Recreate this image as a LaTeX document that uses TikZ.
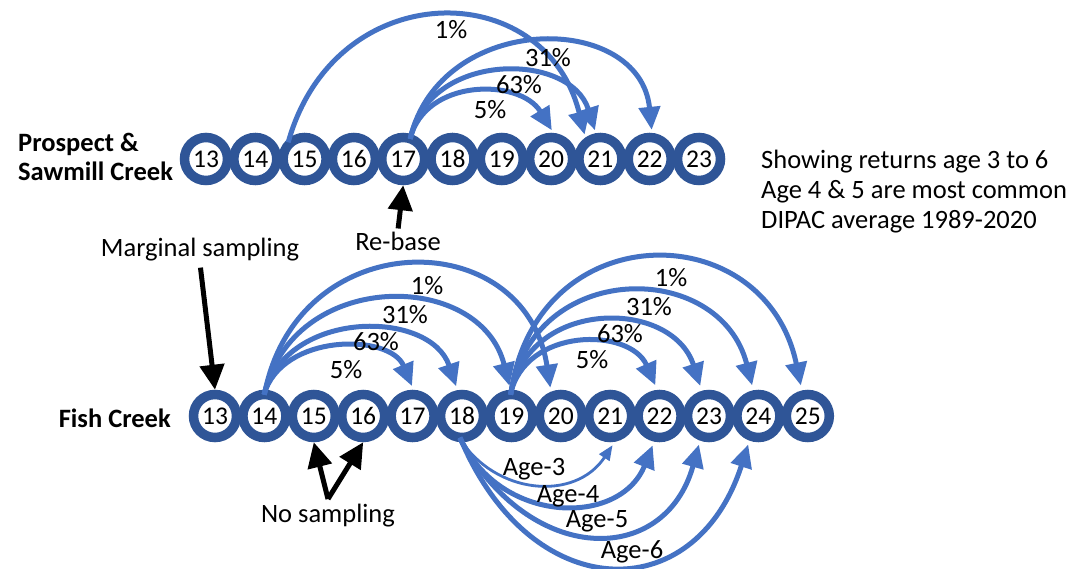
\documentclass[tikz,border=0pt]{standalone}
\usepackage{fontspec}
\setmainfont{Carlito}
\usetikzlibrary{arrows.meta}
\definecolor{ring}{HTML}{2F5597}
\definecolor{flow}{HTML}{4472C4}

\begin{document}
\begin{tikzpicture}[x=1pt,y=-1pt,
  yr/.style={circle, draw=ring, line width=9.5pt, fill=white, minimum size=43pt,
    inner sep=0pt, font=\fontsize{25.5}{25.5}\selectfont},
  ret/.style={draw=flow, line width=5pt, -{Triangle[length=23pt,width=21pt]},
    shorten >=3pt, shorten <=-5pt},
  thinret/.style={draw=flow, line width=2.8pt, -{Triangle[length=15pt,width=12pt]},
    shorten >=4pt, shorten <=-5pt},
  blk/.style={draw=black, line width=5pt, -{Triangle[length=25pt,width=24pt]}},
  lbl/.style={font=\fontsize{26.5}{30}\selectfont, inner sep=0pt},
  ttl/.style={font=\fontsize{26.5}{29}\selectfont\bfseries, inner sep=0pt}
]
\fill[white] (0,0) rectangle (1081,569);
\useasboundingbox (0,0) rectangle (1081,569);

% brood-year rings
\foreach \i [count=\k from 0] in {13,...,23}
  \node[yr] (t\i) at ({206+49.3*\k},159) {\i};
\foreach \i [count=\k from 0] in {13,...,25}
  \node[yr] (b\i) at ({215+49.4*\k},416) {\i};

% stream names and notes
\node[ttl, anchor=west, align=left] (psc) at (18,157) {Prospect \&\\Sawmill Creek};
\node[ttl, anchor=east] (fish) at (171,418) {Fish Creek};
\node[lbl, anchor=north west, align=left] (note) at (761,150)
  {Showing returns age 3 to 6\\Age 4 \& 5 are most common\\DIPAC average 1989-2020};

% Prospect & Sawmill returns
\draw[ret] (t15.125) .. controls (335,-25) and (545,-25) .. (t21.125);
\draw[ret] (t17.72) .. controls (425,78) and (520,78) .. (t20.85);
\draw[ret] (t17.72) .. controls (428,51) and (570,51) .. (t21.100);
\draw[ret] (t17.72) .. controls (440,11) and (640,11) .. (t22.85);
\node[lbl] (p1) at (451,30) {1\%};
\node[lbl] (p31) at (548,58) {31\%};
\node[lbl] (p63) at (519,85) {63\%};
\node[lbl] (p5) at (490,110) {5\%};

% Fish Creek returns from 14
\draw[ret, shorten >=4pt] (b14.88) .. controls (282,333) and (390,333) .. (b17.88);
\draw[ret, shorten >=4pt] (b14.88) .. controls (287,309) and (430,309) .. (b18.100);
\draw[ret, shorten >=4pt] (b14.88) .. controls (292,269) and (480,269) .. (b19.92);
\draw[ret, shorten >=4pt] (b14.88) .. controls (297,223) and (525,223) .. (b20.112);
\node[lbl] (a1) at (427,286) {1\%};
\node[lbl] (a31) at (405,315) {31\%};
\node[lbl] (a63) at (376,342) {63\%};
\node[lbl] (a5) at (346,370) {5\%};

% Fish Creek returns from 19
\draw[ret, shorten >=5pt] (b19.90) .. controls (525,327) and (630,327) .. (b22.95);
\draw[ret, shorten >=5pt] (b19.90) .. controls (528,298) and (672,298) .. (b23.106);
\draw[ret, shorten >=5pt] (b19.90) .. controls (532,259) and (720,259) .. (b24.101);
\draw[ret, shorten >=5pt] (b19.90) .. controls (535,214) and (765,214) .. (b25.103);
\node[lbl] (c1) at (671,278) {1\%};
\node[lbl] (c31) at (649,307) {31\%};
\node[lbl] (c63) at (620,334) {63\%};
\node[lbl] (c5) at (592,360) {5\%};

% Fish Creek returns from 18 by age
\draw[thinret] (b18.south) .. controls (495,495) and (575,502) .. (b21.280);
\draw[ret, shorten >=4pt] (b18.south) .. controls (500,525) and (620,527) .. (b22.258);
\draw[ret, shorten >=4pt] (b18.south) .. controls (530,567) and (665,567) .. (b23.250);
\draw[ret, shorten >=4pt] (b18.south) .. controls (530,606) and (695,610) .. (b24.250);
\node[lbl] (g3) at (534,469) {Age-3};
\node[lbl] (g4) at (568,496) {Age-4};
\node[lbl] (g5) at (597,521) {Age-5};
\node[lbl] (g6) at (632,552) {Age-6};

% sampling notes
\node[lbl, inner sep=2pt] (rebase) at (398,241) {Re-base};
\draw[blk, shorten <=1pt] (rebase.north) -- (t17.south);
\node[lbl, inner sep=2pt] (marg) at (200,250) {Marginal sampling};
\draw[blk, shorten <=4pt] (marg.south) -- (b13.north);
\node[lbl] (nosamp) at (328,516) {No sampling};
\coordinate (apex) at (328,499);
\draw[blk] (apex) -- (b15.south);
\draw[blk] (apex) -- (b16.south);
\end{tikzpicture}
\end{document}
